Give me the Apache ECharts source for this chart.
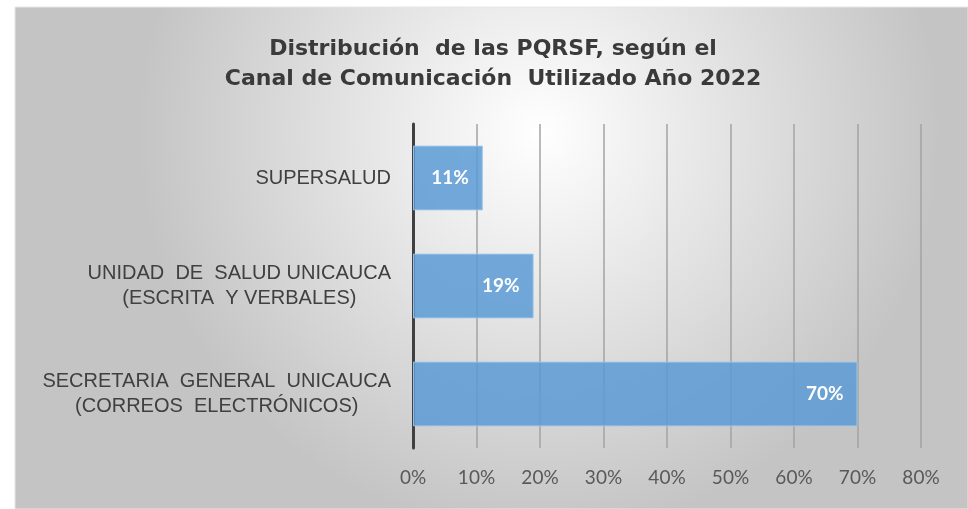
<!DOCTYPE html>
<html>
<head>
<meta charset="utf-8">
<script src="https://cdn.jsdelivr.net/npm/echarts@6/dist/echarts.min.js"></script>
<style>
  html, body { margin: 0; padding: 0; background: #fff; }
  #chart { width: 968px; height: 509px; }
</style>
</head>
<body>
<div id="chart"></div>
<script>
  // categorias de arriba hacia abajo
  var canales = [
    'SUPERSALUD',
    'UNIDAD  DE  SALUD UNICAUCA\n(ESCRITA  Y VERBALES)',
    'SECRETARIA  GENERAL  UNICAUCA\n(CORREOS  ELECTRÓNICOS)'
  ];
  var porcentajes = [0.11, 0.19, 0.70];
  var ticksX = [0, 0.1, 0.2, 0.3, 0.4, 0.5, 0.6, 0.7, 0.8];

  var chart = echarts.init(document.getElementById('chart'));

  var option = {
    backgroundColor: '#fff',
    graphic: [{
      type: 'rect',
      z: -10,
      shape: { x: 15, y: 7, width: 953, height: 502 },
      style: {
        fill: {
          type: 'radial', x: 0.55, y: 0.25, r: 0.8,
          colorStops: [
            { offset: 0, color: '#ffffff' },
            { offset: 1, color: '#c4c4c4' }
          ]
        },
        stroke: '#e6e6e6',
        lineWidth: 1
      }
    }],
    title: {
      text: 'Distribución  de las PQRSF, según el\nCanal de Comunicación  Utilizado Año 2022',
      left: 488,
      top: 29,
      textAlign: 'center',
      textStyle: {
        fontFamily: '"DejaVu Sans", sans-serif',
        fontSize: 22,
        fontWeight: 'bold',
        color: '#3a3a3a',
        lineHeight: 30
      }
    },
    grid: { left: 413, right: 47, top: 124, bottom: 61 },
    xAxis: {
      type: 'value',
      min: 0,
      max: 0.8,
      interval: 0.1,
      axisLine: { show: false },
      axisTick: { show: false },
      splitLine: { lineStyle: { color: '#a3a3a3', width: 1.5 } },
      axisLabel: {
        margin: 20,
        color: '#595959',
        fontFamily: 'Lato, sans-serif',
        fontSize: 19,
        formatter: function (v) {
          return ticksX.indexOf(Math.round(v * 10) / 10) >= 0 ? Math.round(v * 100) + '%' : '';
        }
      }
    },
    yAxis: {
      type: 'category',
      inverse: true,
      data: canales,
      axisLine: { lineStyle: { color: '#404040', width: 3 } },
      axisTick: { show: false },
      axisLabel: {
        margin: 22,
        formatter: function (v) {
          return v.split('\n').map(function (s) { return '{c|' + s + '}'; }).join('\n');
        },
        rich: {
          c: {
            align: 'center',
            color: '#404040',
            fontFamily: '"Liberation Sans", Arial, sans-serif',
            fontSize: 20,
            lineHeight: 25
          }
        }
      }
    },
    series: [{
      type: 'bar',
      data: porcentajes,
      barCategoryGap: '40%',
      itemStyle: {
        color: 'rgba(91,155,213,0.85)',
        borderColor: 'rgba(160,200,235,0.9)',
        borderWidth: 1
      },
      label: {
        show: true,
        position: 'insideRight',
        distance: 14,
        color: '#fff',
        fontFamily: 'Lato, sans-serif',
        fontWeight: 'bold',
        fontSize: 19,
        formatter: function (p) { return Math.round(p.value * 100) + '%'; }
      }
    }]
  };

  chart.setOption(option);
</script>
</body>
</html>
